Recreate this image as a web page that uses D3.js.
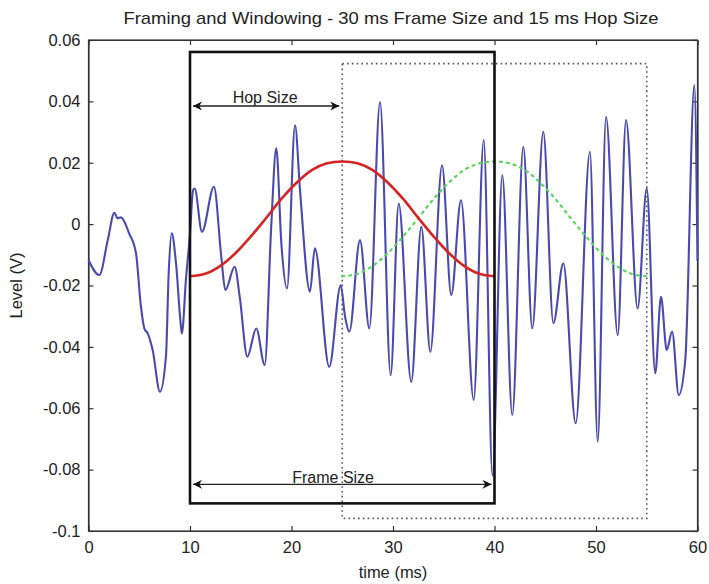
<!DOCTYPE html>
<html>
<head>
<meta charset="utf-8">
<script src="https://cdn.jsdelivr.net/npm/d3@7"></script>
<style>
  html, body { margin: 0; padding: 0; background: #fff; }
  svg { display: block; }
  text { font-family: "Liberation Sans", Arial, sans-serif; fill: #222; }
</style>
</head>
<body>
<svg id="chart" width="709" height="584"></svg>
<script>
// ---------- data ----------
const titleText = "Framing and Windowing - 30 ms Frame Size and 15 ms Hop Size";
const xLabel = "time (ms)";
const yLabel = "Level (V)";
const xTicks = [0, 10, 20, 30, 40, 50, 60];
const xTickLabels = ["0", "10", "20", "30", "40", "50", "60"];
const yTicks = [0.06, 0.04, 0.02, 0, -0.02, -0.04, -0.06, -0.08, -0.1];
const yTickLabels = ["0.06", "0.04", "0.02", "0", "-0.02", "-0.04", "-0.06", "-0.08", "-0.1"];

// signal (time in ms, level in V)
const signalTime = [0, 1.07, 1.9, 2.55, 2.87, 3.2, 4.0, 4.68, 5.17, 5.5, 5.83, 6.32, 7.04, 7.63, 7.9, 8.2, 8.62, 9.11, 9.2, 9.6, 10.0,
  10.3, 10.46, 11.18, 12.36, 13.08, 13.48, 14.4, 14.9, 15.65, 16.53, 17.36, 18.0, 18.5, 19.0, 19.56,
  20.35, 20.84, 21.82, 22.3, 23.72, 24.85, 25.27, 25.7, 26.75, 27.67, 28.72, 29.77,
  30.56, 31.8, 32.79, 33.68, 34.83, 35.74, 36.7, 37.95, 38.94, 39.8,
  40.77, 41.75, 42.84, 43.72, 44.81, 45.8, 46.78, 48.0, 49.4,
  50.17, 50.99, 52.14, 52.96, 54.1, 55.0, 55.84, 56.4, 56.97, 57.5, 58.15, 58.8, 59.69, 60];
const signalLevel = [-0.0117, -0.0166, -0.0052, 0.0037, 0.0019, 0.0022, -0.003, -0.0095, -0.027, -0.034, -0.0356, -0.041, -0.0546, -0.0432, -0.016, -0.003, -0.0127, -0.0334, -0.0356, -0.018, -0.003,
  0.011, 0.0116, -0.0025, 0.0122, -0.0106, -0.0215, -0.0139, -0.0237, -0.0432, -0.034, -0.0459, -0.0009, 0.0247, -0.0063, -0.021,
  0.0322, 0.011, -0.022, -0.0079, -0.0465, -0.0199, -0.030, -0.035, -0.0052, -0.034, 0.0398, -0.0492,
  0.0067, -0.0514, -0.0009, -0.0416, 0.0192, -0.0231, 0.0078, -0.0573, 0.0274, -0.082,
  0.016, -0.0622, 0.0252, -0.034, 0.0301, -0.0323, -0.0128, -0.0649, 0.0236,
  -0.0709, 0.035, -0.0362, 0.0339, -0.0275, 0.0116, -0.0486, -0.0237, -0.041, -0.035, -0.0557, -0.044, 0.0453, -0.012];

// first window (red, 10–40 ms)
const window1Time = [10, 11.5, 13, 14.5, 16, 17.5, 19, 20.5, 22, 23.5, 25, 26.5, 28, 29.5, 31, 32.5, 34, 35.5, 37, 38.5, 40];
const window1Level = [-0.017, -0.0162, -0.0136, -0.0094, -0.004, 0.002, 0.0082, 0.0135, 0.0176, 0.0198, 0.0204, 0.0198, 0.0176, 0.0135, 0.0082, 0.002, -0.004, -0.0094, -0.0136, -0.0162, -0.017];
// second window (green dotted, 25–55 ms)
const window2Time = [25, 26.5, 28, 29.5, 31, 32.5, 34, 35.5, 37, 38.5, 40, 41.5, 43, 44.5, 46, 47.5, 49, 50.5, 52, 53.5, 55];
const window2Level = [-0.017, -0.0162, -0.0136, -0.0094, -0.004, 0.002, 0.0082, 0.0135, 0.0176, 0.0198, 0.0204, 0.0198, 0.0176, 0.0135, 0.0082, 0.002, -0.004, -0.0094, -0.0136, -0.0162, -0.017];

// frame boxes [t0, t1, top, bottom]
const frame1 = [10, 40, 0.0561, -0.091];
const frame2 = [25, 55, 0.0523, -0.0959];
// annotation arrows [t0, t1, level, label]
const hopArrow = [10, 25, 0.0385, "Hop Size"];
const frameArrow = [10, 40, -0.0848, "Frame Size"];

// ---------- layout ----------
const W = 709, H = 584;
const margin = { left: 88.5, right: 11.5, top: 40, bottom: 53 };
const x = d3.scaleLinear().domain([0, 60]).range([margin.left, W - margin.right]);
const y = d3.scaleLinear().domain([-0.1, 0.06]).range([H - margin.bottom, margin.top]);

const svg = d3.select("#chart");

// defs: arrowheads
const defs = svg.append("defs");
["start", "end"].forEach(k => {
  defs.append("marker")
    .attr("id", "arrow-" + k)
    .attr("viewBox", "0 0 10 10")
    .attr("refX", k === "end" ? 10 : 0).attr("refY", 5)
    .attr("markerWidth", 18).attr("markerHeight", 9)
    .attr("markerUnits", "userSpaceOnUse")
    .attr("orient", "auto")
    .append("path")
    .attr("d", k === "end" ? "M0,0 L10,5 L0,10 L3,5 Z" : "M10,0 L0,5 L10,10 L7,5 Z")
    .attr("fill", "#111");
});

// axes box
svg.append("rect")
  .attr("x", x(0)).attr("y", y(0.06))
  .attr("width", x(60) - x(0)).attr("height", y(-0.1) - y(0.06))
  .attr("fill", "#fff").attr("stroke", "#333").attr("stroke-width", 1.2);

// axes with inward ticks
const tickLen = 5;
const axB = svg.append("g").attr("transform", `translate(0,${y(-0.1)})`)
  .call(d3.axisBottom(x).tickValues(xTicks).tickSizeInner(-tickLen).tickSizeOuter(0).tickPadding(10)
    .tickFormat((d, i) => xTickLabels[i]));
const axT = svg.append("g").attr("transform", `translate(0,${y(0.06)})`)
  .call(d3.axisTop(x).tickValues(xTicks).tickSizeInner(-tickLen).tickSizeOuter(0).tickFormat(""));
const axL = svg.append("g").attr("transform", `translate(${x(0)},0)`)
  .call(d3.axisLeft(y).tickValues(yTicks).tickSizeInner(-tickLen).tickSizeOuter(0).tickPadding(8)
    .tickFormat((d, i) => yTickLabels[i]));
const axR = svg.append("g").attr("transform", `translate(${x(60)},0)`)
  .call(d3.axisRight(y).tickValues(yTicks).tickSizeInner(-tickLen).tickSizeOuter(0).tickFormat(""));
[axB, axT, axL, axR].forEach(a => {
  a.select(".domain").attr("stroke", "#333").attr("stroke-width", 1.2);
  a.selectAll(".tick line").attr("stroke", "#333").attr("stroke-width", 1.2);
  a.selectAll(".tick text").attr("font-size", 16.5).attr("fill", "#222")
    .attr("font-family", "'Liberation Sans', Arial, sans-serif");
});

// dotted frame box
svg.append("rect")
  .attr("x", x(frame2[0])).attr("y", y(frame2[2]))
  .attr("width", x(frame2[1]) - x(frame2[0])).attr("height", y(frame2[3]) - y(frame2[2]))
  .attr("fill", "none").attr("stroke", "#555").attr("stroke-width", 1.6).attr("stroke-dasharray", "1.6,3.2");

// signal
const line = d3.line().curve(d3.curveMonotoneX).x(d => x(d[0])).y(d => y(d[1]));
const sig = signalTime.map((t, i) => [t, signalLevel[i]]);
svg.append("path").attr("d", line(sig))
  .attr("fill", "none").attr("stroke", "#4a4aae").attr("stroke-width", 2.1).attr("stroke-linejoin", "round");

// green dotted window
const smooth = d3.line().curve(d3.curveCatmullRom).x(d => x(d[0])).y(d => y(d[1]));
svg.append("path").attr("d", smooth(window2Time.map((t, i) => [t, window2Level[i]])))
  .attr("fill", "none").attr("stroke", "#5ad65a").attr("stroke-width", 2.2)
  .attr("stroke-dasharray", "2,5").attr("stroke-linecap", "round");

// red window
svg.append("path").attr("d", smooth(window1Time.map((t, i) => [t, window1Level[i]])))
  .attr("fill", "none").attr("stroke", "#d42424").attr("stroke-width", 2.6);

// solid frame box
svg.append("rect")
  .attr("x", x(frame1[0])).attr("y", y(frame1[2]))
  .attr("width", x(frame1[1]) - x(frame1[0])).attr("height", y(frame1[3]) - y(frame1[2]))
  .attr("fill", "none").attr("stroke", "#111").attr("stroke-width", 2.6);

// arrows
[hopArrow, frameArrow].forEach(a => {
  svg.append("line")
    .attr("x1", x(a[0]) + 3).attr("x2", x(a[1]) - 3)
    .attr("y1", y(a[2])).attr("y2", y(a[2]))
    .attr("stroke", "#222").attr("stroke-width", 1.3)
    .attr("marker-start", "url(#arrow-start)").attr("marker-end", "url(#arrow-end)");
});
svg.append("text").attr("x", x(17.4)).attr("y", y(hopArrow[2]) - 3)
  .attr("text-anchor", "middle").attr("font-size", 16).text(hopArrow[3]);
svg.append("text").attr("x", x(24.1)).attr("y", y(frameArrow[2]) - 1)
  .attr("text-anchor", "middle").attr("font-size", 16).text(frameArrow[3]);

// title and labels
svg.append("text").attr("x", 391).attr("y", 24).attr("text-anchor", "middle")
  .attr("font-size", 17).attr("textLength", 535).attr("lengthAdjust", "spacingAndGlyphs").text(titleText);
svg.append("text").attr("x", x(30)).attr("y", 578).attr("text-anchor", "middle")
  .attr("font-size", 16.5).text(xLabel);
svg.append("text").attr("transform", `translate(22,${y(-0.02)}) rotate(-90)`)
  .attr("text-anchor", "middle").attr("font-size", 16.5).text(yLabel);
</script>
</body>
</html>
